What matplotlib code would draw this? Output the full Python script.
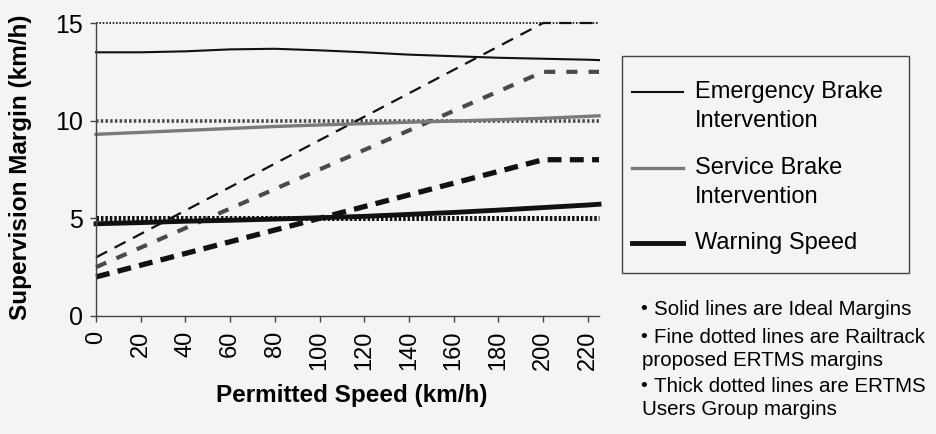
import matplotlib
matplotlib.use("Agg")
import matplotlib.pyplot as plt
from matplotlib.lines import Line2D
from matplotlib.patches import Rectangle

# ideal margins (solid lines)
speed = [0, 20, 40, 60, 80, 100, 120, 140, 160, 180, 200, 220, 225]
eb_ideal = [13.5, 13.5, 13.55, 13.65, 13.68, 13.6, 13.5, 13.38, 13.3, 13.22, 13.17, 13.12, 13.1]
sb_ideal = [9.3, 9.4, 9.5, 9.6, 9.7, 9.78, 9.85, 9.92, 9.98, 10.05, 10.12, 10.22, 10.25]
warn_ideal = [4.72, 4.78, 4.85, 4.9, 4.96, 5.03, 5.1, 5.2, 5.3, 5.42, 5.55, 5.68, 5.72]

# Railtrack proposed ERTMS margins (fine dotted)
rt_speed = [0, 225]
rt_eb = [15, 15]
rt_sb = [10, 10]
rt_warn = [5, 5]

# ERTMS Users Group margins (dashed)
ug_speed = [0, 200, 225]
ug_eb = [3, 15, 15]
ug_sb = [2.5, 12.5, 12.5]
ug_warn = [2, 8, 8]

xticks = list(range(0, 221, 20))
yticks = [0, 5, 10, 15]
legend_labels = [["Emergency Brake", "Intervention"], ["Service Brake", "Intervention"], ["Warning Speed"]]
notes = ["Solid lines are Ideal Margins",
         "Fine dotted lines are Railtrack", "proposed ERTMS margins",
         "Thick dotted lines are ERTMS", "Users Group margins"]

plt.rcParams['font.family'] = ['Liberation Sans', 'DejaVu Sans']
plt.rcParams['lines.scale_dashes'] = False

bg = '#f4f4f4'
gray = '#7a7a7a'
fig = plt.figure(figsize=(9.37, 4.34), dpi=100, facecolor=bg)
ax = fig.add_axes([0.1025, 0.272, 0.5368, 0.675], facecolor=bg)

# fine dotted
ax.plot(rt_speed, rt_eb, color='#222222', lw=1.3, dashes=(1.2, 1.2), clip_on=False)
ax.plot(rt_speed, rt_sb, color='#4a4a4a', lw=2.6, dashes=(1.8, 1.6), clip_on=False)
ax.plot(rt_speed, rt_warn, color='#111111', lw=3.6, dashes=(1.8, 1.4), clip_on=False)

# dashed
ax.plot(ug_speed, ug_eb, color='#111111', lw=1.6, dashes=(9, 6), clip_on=False)
ax.plot(ug_speed, ug_sb, color='#4a4a4a', lw=3.0, dashes=(8, 8), clip_on=False)
ax.plot(ug_speed, ug_warn, color='#111111', lw=3.8, dashes=(10, 6), clip_on=False)

# solid
ax.plot(speed, eb_ideal, color='#111111', lw=1.5, clip_on=False)
ax.plot(speed, sb_ideal, color=gray, lw=2.4, clip_on=False)
ax.plot(speed, warn_ideal, color='#111111', lw=3.5, clip_on=False)

ax.set_xlim(0, 225)
ax.set_ylim(0, 15)
ax.set_xticks(xticks)
ax.set_yticks(yticks)
ax.set_xticklabels([str(v) for v in xticks], rotation=90, fontsize=17)
ax.set_yticklabels([str(v) for v in yticks], fontsize=18)
ax.tick_params(axis='x', length=4.5, width=1, color='#444444', pad=6)
ax.tick_params(axis='y', length=4.5, width=1, color='#444444', pad=5)
for s in ['top', 'right']:
    ax.spines[s].set_visible(False)
for s in ['left', 'bottom']:
    ax.spines[s].set_color('#444444')
    ax.spines[s].set_linewidth(1)

ax.set_xlabel("Permitted Speed (km/h)", fontsize=17.5, fontweight='bold')
ax.xaxis.set_label_coords(0.508, -0.232)
ax.set_ylabel("Supervision Margin (km/h)", fontsize=17.5, fontweight='bold')
ax.yaxis.set_label_coords(-0.127, 0.507)

# legend box
fig.patches.append(Rectangle((0.6638, 0.371), 0.3063, 0.5, transform=fig.transFigure,
                             fill=False, edgecolor='#444444', lw=1))
handles = [('#111111', 1.5), (gray, 2.4), ('#111111', 3.5)]
rows_y = [[0.788, 0.7212], [0.613, 0.546], [0.440]]
for (c, w), labs, ys in zip(handles, legend_labels, rows_y):
    fig.lines.append(Line2D([0.6745, 0.7289], [ys[0], ys[0]], transform=fig.transFigure,
                            color=c, lw=w))
    for lab, y in zip(labs, ys):
        fig.text(0.7417, y, lab, fontsize=17, va='center', ha='left')

# notes
note_y = [0.288, 0.2212, 0.1705, 0.1083, 0.0576]
note_x = [0.698, 0.698, 0.685, 0.698, 0.685]
for i, (t, x, y) in enumerate(zip(notes, note_x, note_y)):
    if i in (0, 1, 3):
        fig.text(0.687, y, "\u2022", fontsize=14, va='center', ha='center')
    fig.text(x, y, t, fontsize=14.8, va='center', ha='left')

fig.savefig("out.png", dpi=100, facecolor=bg)
